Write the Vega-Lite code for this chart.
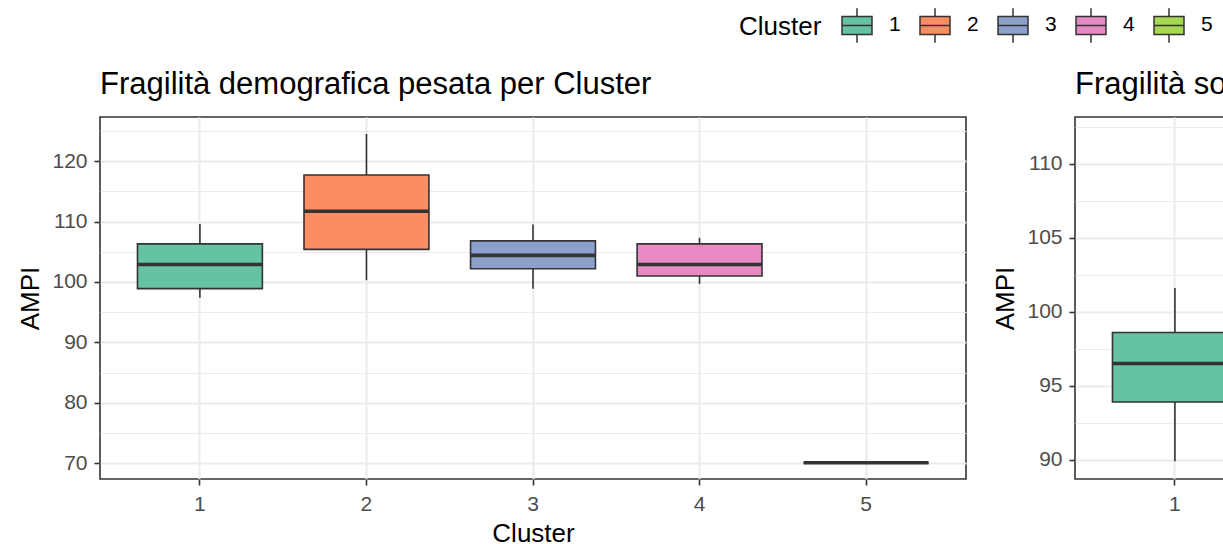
{
  "$schema": "https://vega.github.io/schema/vega-lite/v6.json",
  "padding": {"left": 16, "top": 9, "right": 0, "bottom": 0},
  "background": "white",
  "datasets": {
    "demo": [
      {"Cluster": "1", "lower": 97.4, "q1": 98.9, "median": 102.9, "q3": 106.3, "upper": 109.6},
      {"Cluster": "2", "lower": 100.3, "q1": 105.4, "median": 111.7, "q3": 117.7, "upper": 124.5},
      {"Cluster": "3", "lower": 98.9, "q1": 102.2, "median": 104.4, "q3": 106.8, "upper": 109.5},
      {"Cluster": "4", "lower": 99.7, "q1": 101.0, "median": 102.9, "q3": 106.3, "upper": 107.3},
      {"Cluster": "5", "lower": 70.1, "q1": 70.1, "median": 70.1, "q3": 70.1, "upper": 70.1}
    ],
    "soc": [
      {"Cluster": "1", "lower": 89.9, "q1": 93.9, "median": 96.5, "q3": 98.6, "upper": 101.6}
    ]
  },
  "hconcat": [
    {
      "width": 866,
      "height": 362,
      "title": {"text": "Fragilità demografica pesata per Cluster"},
      "data": {"name": "demo"},
      "resolve": {"axis": {"y": "independent"}},
      "layer": [
        {
          "mark": {"type": "rule", "color": "#333333", "strokeWidth": 1.6},
          "encoding": {
            "x": {"field": "Cluster", "type": "nominal", "title": "Cluster",
                  "scale": {"domain": ["1", "2", "3", "4", "5"], "paddingInner": 0.25, "paddingOuter": 0.225},
                  "axis": {"labelAngle": 0, "grid": true, "bandPosition": 0.5}},
            "y": {"field": "lower", "type": "quantitative", "title": "AMPI",
                  "scale": {"domain": [67.4, 127.3], "nice": false, "zero": false},
                  "axis": {"values": [70, 80, 90, 100, 110, 120], "grid": true}},
            "y2": {"field": "upper"}
          }
        },
        {
          "mark": {"type": "bar", "stroke": "#333333", "strokeWidth": 1.6, "opacity": 1},
          "encoding": {
            "x": {"field": "Cluster", "type": "nominal"},
            "y": {"field": "q1", "type": "quantitative", "axis": null},
            "y2": {"field": "q3"},
            "color": {"field": "Cluster", "type": "nominal", "title": "Cluster",
                      "scale": {"domain": ["1", "2", "3", "4", "5"], "range": ["#66C2A5", "#FC8D62", "#8DA0CB", "#E78AC3", "#A6D854"]}}
          }
        },
        {
          "mark": {"type": "bar", "stroke": "#333333", "strokeWidth": 3.6, "fill": null},
          "encoding": {
            "x": {"field": "Cluster", "type": "nominal"},
            "y": {"field": "median", "type": "quantitative",
                  "axis": {"orient": "right", "values": [75, 85, 95, 105, 115, 125], "grid": true, "gridWidth": 1.2,
                           "labels": false, "ticks": false, "domain": false, "title": null}},
            "y2": {"field": "median"}
          }
        }
      ]
    },
    {
      "width": 866,
      "height": 362,
      "title": {"text": "Fragilità sociale pesata per Cluster"},
      "data": {"name": "soc"},
      "resolve": {"axis": {"y": "independent"}},
      "layer": [
        {
          "mark": {"type": "rule", "color": "#333333", "strokeWidth": 1.6},
          "encoding": {
            "x": {"field": "Cluster", "type": "nominal", "title": "Cluster",
                  "scale": {"domain": ["1", "2", "3", "4", "5"], "paddingInner": 0.25, "paddingOuter": 0.225},
                  "axis": {"labelAngle": 0, "grid": true, "bandPosition": 0.5}},
            "y": {"field": "lower", "type": "quantitative", "title": "AMPI",
                  "scale": {"domain": [88.7, 113.16], "nice": false, "zero": false},
                  "axis": {"values": [90, 95, 100, 105, 110], "grid": true}},
            "y2": {"field": "upper"}
          }
        },
        {
          "mark": {"type": "bar", "stroke": "#333333", "strokeWidth": 1.6, "opacity": 1},
          "encoding": {
            "x": {"field": "Cluster", "type": "nominal"},
            "y": {"field": "q1", "type": "quantitative", "axis": null},
            "y2": {"field": "q3"},
            "color": {"field": "Cluster", "type": "nominal", "title": "Cluster",
                      "scale": {"domain": ["1", "2", "3", "4", "5"], "range": ["#66C2A5", "#FC8D62", "#8DA0CB", "#E78AC3", "#A6D854"]}}
          }
        },
        {
          "mark": {"type": "bar", "stroke": "#333333", "strokeWidth": 3.6, "fill": null},
          "encoding": {
            "x": {"field": "Cluster", "type": "nominal"},
            "y": {"field": "median", "type": "quantitative",
                  "axis": {"orient": "right", "values": [92.5, 97.5, 102.5, 107.5, 112.5], "grid": true, "gridWidth": 1.2,
                           "labels": false, "ticks": false, "domain": false, "title": null}},
            "y2": {"field": "median"}
          }
        }
      ]
    }
  ],
  "spacing": 24,
  "config": {
    "font": "Liberation Sans",
    "view": {"stroke": "#333333", "strokeWidth": 1.6},
    "title": {"anchor": "start", "frame": "group", "fontSize": 31, "fontWeight": "normal", "color": "#000000", "offset": 16},
    "axis": {
      "labelFontSize": 21, "labelColor": "#4D4D4D", "labelPadding": 7,
      "titleFontSize": 26, "titleFontWeight": "normal", "titleColor": "#000000",
      "tickColor": "#333333", "tickSize": 6, "tickWidth": 1.6,
      "domain": false, "gridColor": "#EBEBEB", "gridWidth": 2
    },
    "axisY": {"titlePadding": 8.5},
    "axisX": {"titlePadding": 6, "labelPadding": 8},
    "legend": {
      "orient": "none", "legendX": 639, "legendY": -108,
      "direction": "horizontal", "titleOrient": "left",
      "titleFontSize": 26, "titleFontWeight": "normal", "titleColor": "#000000", "titlePadding": 19,
      "labelFontSize": 21, "labelColor": "#000000", "labelOffset": 16,
      "symbolType": "M-1,-0.6H1V0.6H-1Z M-1,0H1 M0,-0.6V-1.15 M0,0.6V1.15",
      "symbolSize": 900, "symbolStrokeColor": "#333333", "symbolStrokeWidth": 1.5, "symbolOpacity": 1,
      "columnPadding": 16
    }
  }
}
